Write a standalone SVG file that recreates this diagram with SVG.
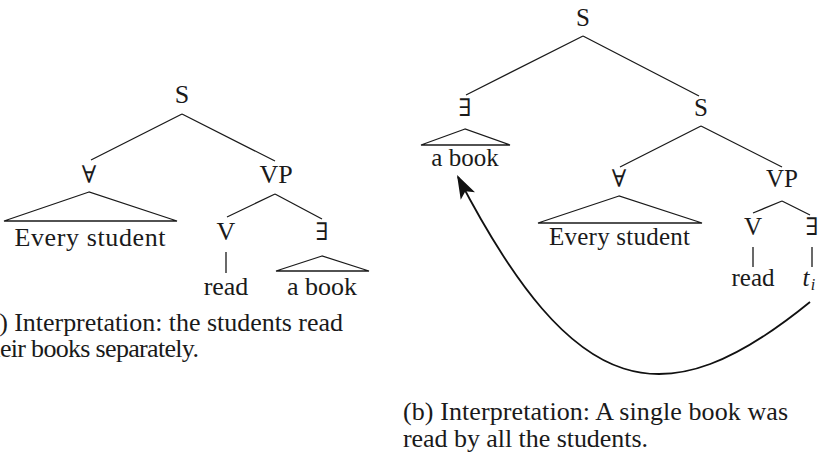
<svg xmlns="http://www.w3.org/2000/svg" width="819" height="453" viewBox="0 0 819 453" font-family="'Liberation Serif', 'Times New Roman', Tinos, 'DejaVu Serif', Times, serif">
<style>
text{font-family:'Liberation Serif','Times New Roman',Tinos,'DejaVu Serif',Times,serif;fill:#1a1a1a;text-anchor:middle}
.l{font-size:26px}
.r{font-size:25px}
.sym{font-family:'DejaVu Serif','Liberation Serif',serif;font-size:24px}
.cap{font-size:26px;text-anchor:start}
.e{stroke:#1a1a1a;stroke-width:1.3;fill:none}
.arrow{stroke:#111;stroke-width:1.8;fill:none}
</style>
<defs>
<marker id="ah" markerUnits="userSpaceOnUse" markerWidth="30" markerHeight="30" viewBox="-24 -12 28 24" refX="0" refY="0" orient="auto">
<path d="M2,0 L-20,-7.5 L-15,0 L-20,7.5 Z" fill="#111"/>
</marker>
</defs>
<g id="connectors">
<path class="e" d="M182,114 L91,160 M182,114 L275,161"/>
<path class="e" d="M275,194 L227,217 M275,194 L322,219"/>
<path class="e" d="M226,252 L226,273"/>
<path class="e" d="M583,36 L466,95 M583,36 L699,96"/>
<path class="e" d="M701,126 L620,167 M701,126 L782,167"/>
<path class="e" d="M782,201 L753,213 M782,201 L810,215"/>
<path class="e" d="M753,247 L753,267 M812,247 L812,267"/>
<path class="arrow" d="M810,302 C665,420 575,403 458,177" marker-end="url(#ah)"/>
</g>
<g id="tree-a">
<g id="a-S"><text class="l" x="182" y="103">S</text></g>
<g id="a-forall"><text class="l sym" x="89" y="183">∀</text>
<polygon class="e" points="89,192 4,221 177,221"/>
<text class="l" x="90" y="246" textLength="151" lengthAdjust="spacing">Every student</text></g>
<g id="a-VP"><text class="l" x="276" y="183">VP</text></g>
<g id="a-V"><text class="l" x="226" y="240">V</text></g>
<g id="a-read"><text class="l" x="226" y="295">read</text></g>
<g id="a-exists"><text class="l sym" x="322" y="240">∃</text>
<polygon class="e" points="322,256 276,271 369,271"/>
<text class="l" x="322" y="295">a book</text></g>
</g>
<g id="tree-b">
<g id="b-S"><text class="r" x="583" y="26">S</text></g>
<g id="b-exists"><text class="r sym" x="465" y="116">∃</text>
<polygon class="e" points="465,129 421,145 510,145"/>
<text class="r" x="465" y="166">a book</text></g>
<g id="b-S2"><text class="r" x="701" y="116">S</text></g>
<g id="b-forall"><text class="r sym" x="619" y="187">∀</text>
<polygon class="e" points="619,196 538,223 702,223"/>
<text class="r" x="619.5" y="245" textLength="141" lengthAdjust="spacing">Every student</text></g>
<g id="b-VP"><text class="r" x="782" y="187">VP</text></g>
<g id="b-V"><text class="r" x="753" y="235">V</text></g>
<g id="b-exists2"><text class="r sym" x="812" y="235">∃</text></g>
<g id="b-read"><text class="r" x="753" y="286">read</text></g>
<g id="b-trace"><text class="r" x="806" y="286" font-style="italic">t</text><text x="813" y="290" font-size="16" font-style="italic">i</text></g>
</g>
<g id="captions">
<text class="cap" x="-21" y="331" textLength="364" lengthAdjust="spacing">(a) Interpretation: the students read</text>
<text class="cap" x="-19" y="357" textLength="218" lengthAdjust="spacing">their books separately.</text>
<text class="cap" x="403" y="420" textLength="385" lengthAdjust="spacing">(b) Interpretation: A single book was</text>
<text class="cap" x="403" y="447" textLength="245" lengthAdjust="spacing">read by all the students.</text>
</g>
</svg>
